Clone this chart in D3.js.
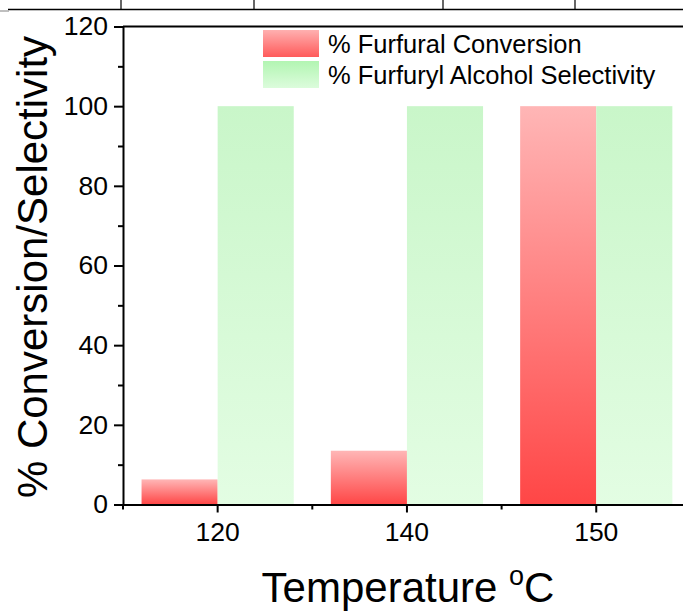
<!DOCTYPE html>
<html>
<head>
<meta charset="utf-8">
<script src="https://cdn.jsdelivr.net/npm/d3@7"></script>
<style>
  html, body { margin: 0; padding: 0; background: #fff; }
  svg { display: block; font-family: "Liberation Sans", Arial, sans-serif; }
</style>
</head>
<body>
<svg id="chart" width="683" height="612"></svg>
<script>
// ---- data ----
const categories = ["120", "140", "150"];
const conversion = [6.3, 13.5, 100];     // % Furfural Conversion
const selectivity = [100, 100, 100];     // % Furfuryl Alcohol Selectivity
const yTicks = [0, 20, 40, 60, 80, 100, 120];
const yMinorTicks = [10, 30, 50, 70, 90, 110];
const seriesNames = ["% Furfural Conversion", "% Furfuryl Alcohol Selectivity"];

(function () {
const svg = d3.select("#chart");
const FONT = '"Liberation Sans", Arial, sans-serif';

// decorative frame fragments at the very top (crop of a surrounding table)
const topStrip = svg.append("g");
topStrip.append("line").attr("x1", 8).attr("x2", 683).attr("y1", 9.5).attr("y2", 9.5)
  .attr("stroke", "#000").attr("stroke-width", 1.5);
topStrip.append("line").attr("x1", 0).attr("x2", 9).attr("y1", 11).attr("y2", 11)
  .attr("stroke", "#aaa").attr("stroke-width", 1.5);
[121, 254, 443, 575].forEach(xv => {
  topStrip.append("line").attr("x1", xv).attr("x2", xv).attr("y1", 0).attr("y2", 9.5)
    .attr("stroke", "#000").attr("stroke-width", 1.2);
});

// ---- scales ----
const plotLeft = 123, step = 189.3, plotTop = 26.5, plotBottom = 504.5;
const x = d3.scaleBand().domain(categories).range([plotLeft, plotLeft + step * categories.length]).padding(0);
const y = d3.scaleLinear().domain([0, 120]).range([plotBottom, plotTop]);
const barW = x.bandwidth() * 0.402;

// ---- gradients ----
const defs = svg.append("defs");
function grad(id, c0, c1) {
  const g = defs.append("linearGradient").attr("id", id)
    .attr("x1", 0).attr("y1", 0).attr("x2", 0).attr("y2", 1);
  g.append("stop").attr("offset", "0%").attr("stop-color", c0);
  g.append("stop").attr("offset", "100%").attr("stop-color", c1);
}
grad("gRed", "#ffb6b6", "#ff4646");
grad("gGreen", "#c9f6c9", "#e3fde3");
grad("gRedLeg", "#ffb0b0", "#ff5a5a");
grad("gGreenLeg", "#b2f5b2", "#dcfcdc");

// ---- bars ----
const center = c => x(c) + x.bandwidth() / 2;
svg.append("g").selectAll("rect").data(categories).join("rect")
  .attr("x", (c) => center(c) - barW)
  .attr("width", barW)
  .attr("y", (c, i) => y(conversion[i]))
  .attr("height", (c, i) => y(0) - y(conversion[i]))
  .attr("fill", "url(#gRed)");
svg.append("g").selectAll("rect").data(categories).join("rect")
  .attr("x", (c) => center(c))
  .attr("width", barW)
  .attr("y", (c, i) => y(selectivity[i]))
  .attr("height", (c, i) => y(0) - y(selectivity[i]))
  .attr("fill", "url(#gGreen)");

// ---- top frame line ----
svg.append("line").attr("x1", plotLeft).attr("x2", 683).attr("y1", y(120)).attr("y2", y(120))
  .attr("stroke", "#000").attr("stroke-width", 2);

// ---- axes ----
const yAxis = svg.append("g").attr("transform", `translate(${plotLeft},0)`)
  .call(d3.axisLeft(y).tickValues(yTicks).tickSize(9).tickPadding(6).tickSizeOuter(0));
yAxis.select(".domain").attr("stroke-width", 2);
yAxis.selectAll(".tick line").attr("stroke-width", 2);
yAxis.selectAll(".tick text").attr("font-size", 26.5).attr("font-family", FONT).attr("fill", "#000");

const yMinor = svg.append("g").attr("transform", `translate(${plotLeft},0)`)
  .call(d3.axisLeft(y).tickValues(yMinorTicks).tickSize(5).tickFormat(""));
yMinor.select(".domain").remove();
yMinor.selectAll(".tick line").attr("stroke-width", 2);

const xAxis = svg.append("g").attr("transform", `translate(0,${plotBottom})`)
  .call(d3.axisBottom(x).tickSize(8).tickPadding(10).tickSizeOuter(0));
xAxis.select(".domain").attr("stroke-width", 2.2);
xAxis.selectAll(".tick line").attr("stroke-width", 2);
xAxis.selectAll(".tick text").attr("font-size", 26.5).attr("font-family", FONT).attr("fill", "#000");

// minor x ticks at band boundaries
const xMinorPos = categories.map(c => x(c)).concat([x.range()[1]]);
svg.append("g").selectAll("line").data(xMinorPos).join("line")
  .attr("x1", d => d).attr("x2", d => d)
  .attr("y1", plotBottom).attr("y2", plotBottom + 5)
  .attr("stroke", "#000").attr("stroke-width", 2);

// ---- axis titles ----
svg.append("text")
  .attr("transform", `translate(47,267) rotate(-90)`)
  .attr("text-anchor", "middle")
  .attr("font-size", 42).attr("font-family", FONT).attr("fill", "#000")
  .text("% Conversion/Selectivity");

const xt = svg.append("text")
  .attr("x", 408).attr("y", 601.7)
  .attr("text-anchor", "middle")
  .attr("font-size", 42).attr("font-family", FONT).attr("fill", "#000");
xt.append("tspan").text("Temperature ");
xt.append("tspan").attr("font-size", 27).attr("dy", -16.5).text("o");
xt.append("tspan").attr("dy", 16.5).text("C");

// ---- legend ----
const legend = svg.append("g");
const legFills = ["url(#gRedLeg)", "url(#gGreenLeg)"];
seriesNames.forEach((name, i) => {
  const yy = 30 + i * 31;
  legend.append("rect").attr("x", 263).attr("y", yy).attr("width", 56).attr("height", 27)
    .attr("fill", legFills[i]);
  legend.append("text").attr("x", 328).attr("y", yy + 13.5).attr("dy", "0.36em")
    .attr("font-size", 25.5).attr("font-family", FONT).attr("fill", "#000")
    .text(name);
});
})();
</script>
</body>
</html>
